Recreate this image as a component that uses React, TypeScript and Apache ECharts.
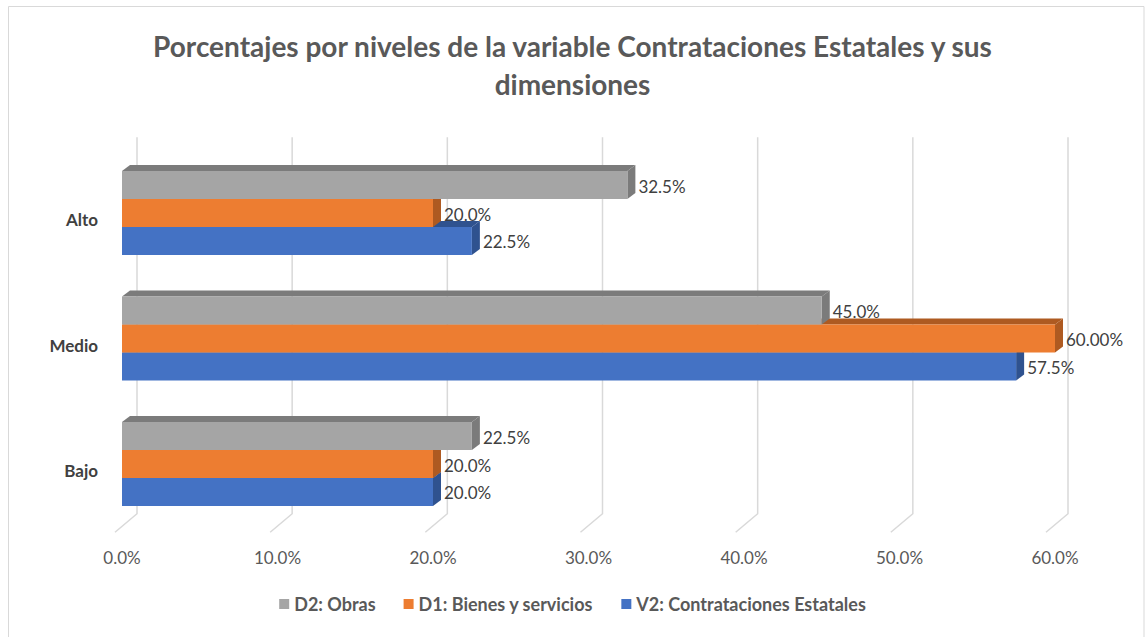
import React, { useEffect, useRef } from "react";
import * as echarts from "echarts";

const categories = ["Bajo", "Medio", "Alto"];
const seriesNames = ["V2: Contrataciones Estatales", "D1: Bienes y servicios", "D2: Obras"];
const v2Values = [20.0, 57.5, 22.5];
const d1Values = [20.0, 60.0, 20.0];
const d2Values = [22.5, 45.0, 32.5];
const v2Labels = ["20.0%", "57.5%", "22.5%"];
const d1Labels = ["20.0%", "60.00%", "20.0%"];
const d2Labels = ["22.5%", "45.0%", "32.5%"];
const tickValues = [0, 10, 20, 30, 40, 50, 60];

const FONT = "Lato, 'Open Sans', sans-serif";

const palette = [
  { front: "#4472c4", dark: "#2f528f" },
  { front: "#ed7d31", dark: "#ae5a21" },
  { front: "#a5a5a5", dark: "#7b7b7b" },
];

const DX = 8;
const DY = 6;

function barSeries(idx: number, values: number[], labels: string[]) {
  const offsetIndex = [1, 0, -1][idx]; // blue lower, orange middle, gray upper
  const col = palette[idx];
  return {
    type: "custom",
    name: seriesNames[idx],
    z: 10 + idx,
    itemStyle: { color: col.front },
    data: values.map((v, i) => [v, i, labels[i]]),
    renderItem: (params: any, api: any) => {
      const v = api.value(0);
      const c = api.value(1);
      const p0 = api.coord([0, c]);
      const p1 = api.coord([v, c]);
      const band = api.size([0, 1])[1];
      const h = band * 0.2231;
      const yc = p0[1] + offsetIndex * h;
      const yTop = yc - h / 2;
      const x0 = p0[0];
      const x1 = p1[0];
      const lbl = labels[params.dataIndex];
      return {
        type: "group",
        children: [
          {
            type: "polygon",
            shape: { points: [[x0, yTop], [x0 + DX, yTop - DY], [x1 + DX, yTop - DY], [x1, yTop]] },
            style: { fill: col.dark },
          },
          {
            type: "polygon",
            shape: { points: [[x1, yTop], [x1 + DX, yTop - DY], [x1 + DX, yTop + h - DY], [x1, yTop + h]] },
            style: { fill: col.dark },
          },
          {
            type: "rect",
            shape: { x: x0, y: yTop, width: x1 - x0, height: h },
            style: { fill: col.front },
          },
          {
            type: "text",
            x: x1 + DX + 3,
            y: yc + 1,
            style: {
              text: lbl,
              fill: "#404040",
              font: `17px ${FONT}`,
              textVerticalAlign: "middle",
              textAlign: "left",
            },
            z2: 50,
          },
        ],
      };
    },
  };
}

export default function App() {
  const ref = useRef<HTMLDivElement>(null);
  useEffect(() => {
    if (!ref.current) return;
    const chart = echarts.init(ref.current, null, { renderer: "svg" });
    const option: any = {
      animation: false,
      backgroundColor: "#ffffff",
      title: {
        text: "Porcentajes por niveles de la variable Contrataciones Estatales y sus\ndimensiones",
        left: "center",
        top: 22,
        textStyle: {
          fontFamily: FONT,
          fontWeight: "bold",
          fontSize: 28,
          color: "#595959",
          lineHeight: 38,
        },
      },
      graphic: [
        {
          type: "polyline",
          shape: { points: [[8.5, 640], [8.5, 6.5], [1144, 6.5], [1144, 640]] },
          style: { stroke: "#d9d9d9", lineWidth: 1, fill: "none" },
          silent: true,
        },
      ],
      legend: {
        bottom: 19,
        left: "center",
        itemWidth: 10,
        itemHeight: 10,
        itemGap: 28,
        icon: "rect",
        data: [seriesNames[2], seriesNames[1], seriesNames[0]],
        textStyle: { fontFamily: FONT, fontWeight: "bold", fontSize: 18, color: "#595959" },
      },
      grid: { left: 122, top: 150.25, width: 933, height: 376.5 },
      xAxis: {
        type: "value",
        min: 0,
        max: 60,
        interval: 10,
        axisLine: { show: false },
        axisTick: { show: false },
        splitLine: { show: false },
        axisLabel: {
          formatter: (v: number) => v.toFixed(1) + "%",
          fontFamily: FONT,
          fontSize: 17,
          color: "#595959",
          margin: 22,
        },
      },
      yAxis: {
        type: "category",
        data: categories,
        axisLine: { show: false },
        axisTick: { show: false },
        axisLabel: {
          fontFamily: FONT,
          fontWeight: "bold",
          fontSize: 17,
          color: "#404040",
          margin: 24,
          verticalAlign: "top",
          lineHeight: 13,
        },
      },
      series: [
        {
          type: "custom",
          name: "grid",
          z: 1,
          silent: true,
          data: tickValues.map((t) => [t, 0]),
          renderItem: (params: any, api: any) => {
            const t = api.value(0);
            const p = api.coord([t, 0]);
            const cs = params.coordSys;
            const bx = p[0] + 15 - (t * 2) / 60;
            const yTopLine = cs.y - 13;
            const yBot = cs.y + cs.height - 13;
            return {
              type: "polyline",
              shape: { points: [[bx, yTopLine], [bx, yBot], [bx - 22, yBot + 18.5]] },
              style: { stroke: "#d9d9d9", lineWidth: 1.5, fill: "none" },
            };
          },
        },
        barSeries(0, v2Values, v2Labels),
        barSeries(1, d1Values, d1Labels),
        barSeries(2, d2Values, d2Labels),
      ],
    };
    chart.setOption(option);
    return () => chart.dispose();
  }, []);
  return (
    <div
      ref={ref}
      style={{ position: "fixed", left: 0, top: 0, width: 1145, height: 637 }}
    />
  );
}
